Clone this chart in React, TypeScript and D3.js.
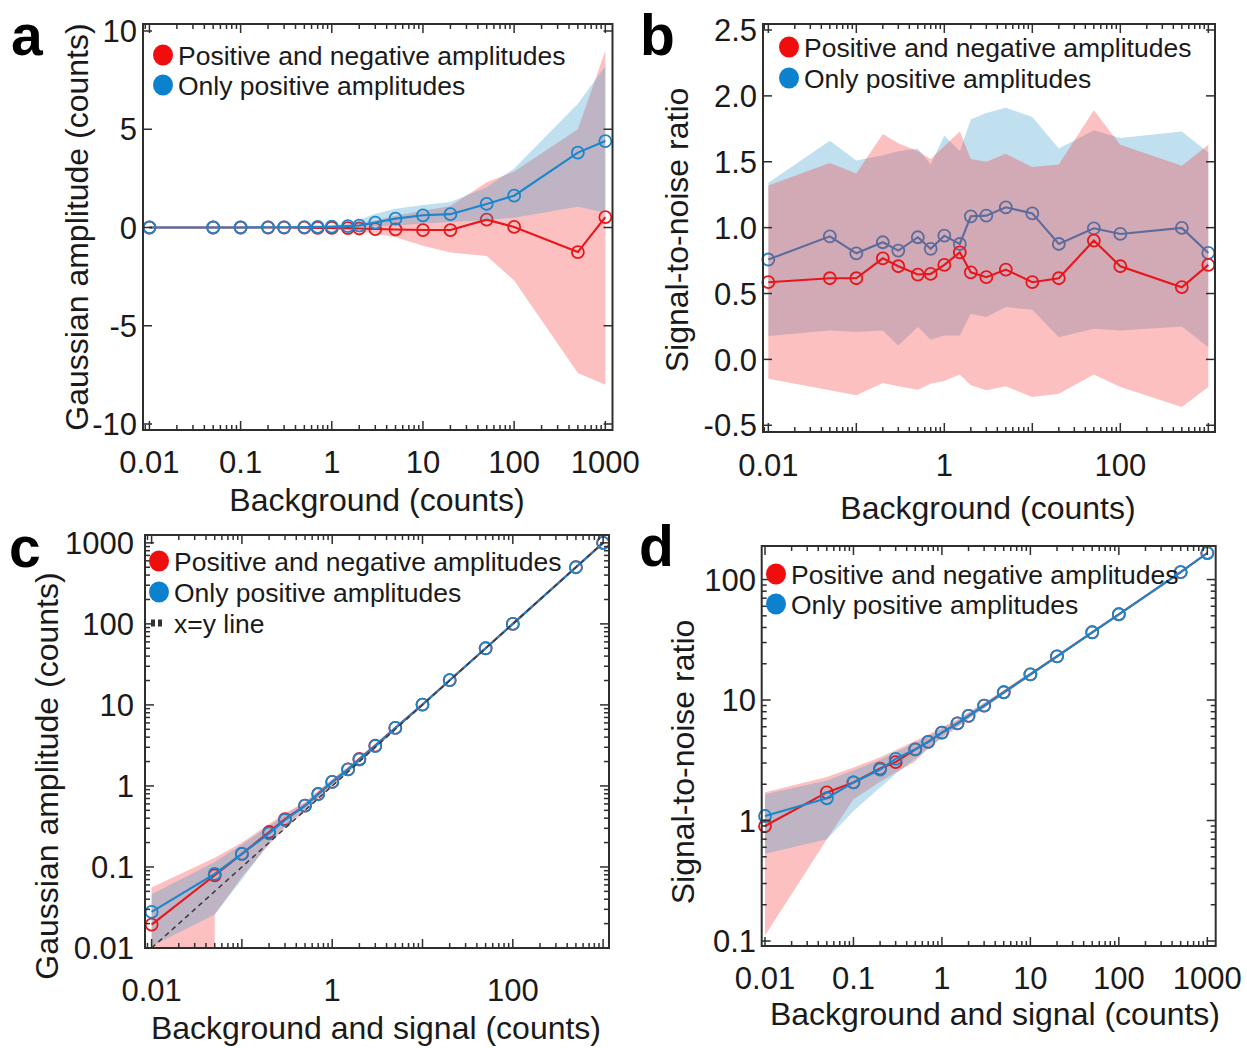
import React from "react";
import * as d3 from "d3";

const FONT = "'Liberation Sans', Arial, Helvetica, sans-serif";
const TEXT = "#1a1a1a";
const AXIS = "#2e2e2e";
const RED = "#e8161b";
const BLUE = "#1a86cc";
const RED_DOT = "#f00d0d";
const BLUE_DOT = "#0c82cf";
const RED_FILL = "rgb(250,45,45)";
const BLUE_FILL = "rgb(45,152,205)";

// shared x values (background / background+signal counts)
const xCounts = [0.01, 0.05, 0.1, 0.2, 0.3, 0.5, 0.7, 1, 1.5, 2, 3, 5, 10, 20, 50, 100, 500, 1000];

// ---- panel a: Gaussian amplitude vs background
const aRed = [0, 0, 0, 0, 0, -0.01, -0.02, -0.02, -0.03, -0.05, -0.08, -0.1, -0.13, -0.13, 0.4, 0.03, -1.25, 0.53];
const aRedLo = [-0.02, -0.02, -0.02, -0.02, -0.03, -0.05, -0.07, -0.1, -0.15, -0.2, -0.3, -0.5, -0.93, -1.27, -1.45, -2.7, -7.4, -8.0];
const aRedHi = [0.02, 0.02, 0.02, 0.03, 0.03, 0.05, 0.06, 0.1, 0.14, 0.2, 0.35, 0.6, 0.85, 1.1, 2.3, 2.85, 5.0, 9.0];
const aBlue = [0, 0, 0, 0.01, 0.01, 0.02, 0.03, 0.04, 0.07, 0.1, 0.25, 0.45, 0.62, 0.68, 1.2, 1.62, 3.81, 4.4];
const aBlueLo = [0, 0, 0, 0, 0, 0, 0, 0, 0.01, 0.02, 0.05, 0.1, 0.2, 0.28, 0.38, 0.5, 1.05, 0.75];
const aBlueHi = [0.02, 0.02, 0.02, 0.03, 0.04, 0.06, 0.08, 0.12, 0.2, 0.4, 0.7, 0.95, 1.15, 1.3, 2.05, 3.0, 6.3, 8.2];

// ---- panel b: SNR vs background
const bRed = [0.586, 0.616, 0.616, 0.767, 0.707, 0.644, 0.649, 0.717, 0.813, 0.661, 0.624, 0.682, 0.586, 0.616, 0.902, 0.707, 0.548, 0.717];
const bRedLo = [-0.146, -0.235, -0.273, -0.179, -0.204, -0.23, -0.184, -0.164, -0.114, -0.197, -0.235, -0.204, -0.285, -0.26, -0.114, -0.21, -0.361, -0.21];
const bRedHi = [1.32, 1.49, 1.41, 1.71, 1.64, 1.58, 1.52, 1.62, 1.73, 1.52, 1.5, 1.56, 1.46, 1.48, 1.89, 1.63, 1.47, 1.63];
const bBlue = [0.758, 0.934, 0.805, 0.889, 0.826, 0.927, 0.839, 0.939, 0.876, 1.086, 1.091, 1.154, 1.108, 0.876, 0.995, 0.952, 0.998, 0.808];
const bBlueLo = [0.177, 0.22, 0.208, 0.22, 0.106, 0.245, 0.149, 0.182, 0.182, 0.346, 0.321, 0.397, 0.376, 0.169, 0.232, 0.22, 0.25, 0.093];
const bBlueHi = [1.34, 1.66, 1.51, 1.55, 1.58, 1.6, 1.48, 1.7, 1.58, 1.82, 1.87, 1.91, 1.84, 1.6, 1.74, 1.68, 1.73, 1.57];

// ---- panel c: Gaussian amplitude vs background and signal
const cRed = [0.0194, 0.079, 0.145, 0.27, 0.39, 0.57, 0.8, 1.12, 1.6, 2.15, 3.15, 5.2, 10.1, 20.2, 50, 100, 500, 1000];
const cRedLo = [0, 0.026, 0.075, 0.19, 0.3, 0.48, 0.7, 0.98, 1.45, 1.95, 2.9, 4.9, 9.7, 19.6, 49.5, 99, 498, 997];
const cRedHi = [0.056, 0.13, 0.2, 0.34, 0.46, 0.64, 0.88, 1.22, 1.72, 2.3, 3.35, 5.45, 10.5, 20.6, 50.5, 101, 502, 1003];
const cBlue = [0.0279, 0.082, 0.145, 0.26, 0.38, 0.57, 0.79, 1.12, 1.6, 2.12, 3.1, 5.2, 10.1, 20.2, 50, 100, 500, 1000];
const cBlueLo = [0.0105, 0.026, 0.07, 0.2, 0.32, 0.52, 0.72, 1.0, 1.46, 1.96, 2.92, 4.92, 9.75, 19.7, 49.6, 99.5, 499, 998];
const cBlueHi = [0.046, 0.115, 0.19, 0.32, 0.44, 0.62, 0.86, 1.2, 1.7, 2.25, 3.3, 5.35, 10.3, 20.5, 50.4, 100.5, 501, 1002];
const cIdentity = [0.01, 1000];

// ---- panel d: SNR vs background and signal
const dRed = [0.9, 1.71, 2.07, 2.7, 3.05, 3.9, 4.5, 5.37, 6.4, 7.4, 9.0, 11.6, 16.3, 23, 36.5, 51.5, 115, 166];
const dRedLo = [0.111, 0.7, 1.5, 2.1, 2.5, 3.1, 3.95, 4.85, 5.95, 6.95, 8.55, 11.1, 15.8, 22.4, 35.8, 50.7, 114, 165];
const dRedHi = [1.72, 2.3, 2.75, 3.35, 3.85, 4.6, 5.15, 5.95, 6.9, 7.9, 9.5, 12.1, 16.9, 23.6, 37.2, 52.3, 116, 167];
const dBlue = [1.09, 1.53, 2.07, 2.65, 3.25, 3.9, 4.5, 5.37, 6.4, 7.4, 9.0, 11.6, 16.3, 23, 36.5, 51.5, 115, 166];
const dBlueLo = [0.53, 0.7, 1.2, 1.88, 2.43, 3.25, 4.0, 4.9, 6.0, 7.0, 8.6, 11.15, 15.85, 22.5, 35.9, 50.8, 114, 165];
const dBlueHi = [1.65, 2.15, 2.6, 3.2, 3.7, 4.4, 5.0, 5.8, 6.8, 7.8, 9.4, 12.0, 16.8, 23.5, 37.1, 52.2, 116, 167];

// tick labels
const xLabelsEvery = ["0.01", "0.1", "1", "10", "100", "1000"];
const xLabelsSparse = ["0.01", "1", "100"];
const aYLabels = ["-10", "-5", "0", "5", "10"];
const bYLabels = ["-0.5", "0.0", "0.5", "1.0", "1.5", "2.0", "2.5"];
const cYLabels = ["0.01", "0.1", "1", "10", "100", "1000"];
const dYLabels = ["0.1", "1", "10", "100"];

const legendMain = ["Positive and negative amplitudes", "Only positive amplitudes"];
const legendIdentity = "x=y line";

type Cfg = any;

function logTicks(domain: number[]) {
  const res: { v: number; major: boolean }[] = [];
  for (let e = -3; e <= 4; e++) {
    for (let k = 1; k < 10; k++) {
      const v = +(k * Math.pow(10, e)).toPrecision(6);
      if (v >= domain[0] && v <= domain[1]) res.push({ v, major: k === 1 });
    }
  }
  return res;
}

function bandPath(xs: number[], lo: number[], hi: number[], x: any, y: any, yLog: boolean, bottom: number) {
  const pts: [number, number][] = xs.map((v, i) => [x(v), y(hi[i])]);
  for (let i = xs.length - 1; i >= 0; i--) {
    if (yLog && lo[i] <= 0) {
      if (i + 1 < xs.length) pts.push([x(xs[i + 1]), bottom]);
      pts.push([x(xs[i > 0 ? i - 1 : i]), bottom]);
    } else pts.push([x(xs[i]), y(lo[i])]);
  }
  return (d3.line()(pts) as string) + "Z";
}

function Panel({ cfg }: { cfg: Cfg }) {
  const { l, t, r, b } = cfg.frame;
  const x = d3.scaleLog().domain(cfg.xDomain).range([l, r]);
  const y = (cfg.yLog ? d3.scaleLog() : d3.scaleLinear()).domain(cfg.yDomain).range([b, t]);
  const clipId = "clip-" + cfg.id;
  const line = d3
    .line<number>()
    .x((_, i) => x(cfg.xs[i]))
    .y((v) => y(v));

  const xt = logTicks(cfg.xDomain);
  const yt = cfg.yLog
    ? logTicks(cfg.yDomain)
    : cfg.yTickVals.map((v: number) => ({ v, major: true }));

  const MAJ = 9;
  const MIN = 5;

  const layers = cfg.order.map((key: string, li: number) => {
    const s = cfg.series[key.slice(1)];
    if (key[0] === "B") {
      return (
        <path
          key={li}
          d={bandPath(cfg.xs, s.lo, s.hi, x, y, cfg.yLog, b + 5)}
          fill={s.fill}
          fillOpacity={s.alpha}
          stroke="none"
          clipPath={`url(#${clipId})`}
        />
      );
    }
    return (
      <g key={li}>
        <path d={line(s.vals) as string} fill="none" stroke={s.color} strokeWidth={2.1} />
        {s.vals.map((v: number, i: number) => (
          <circle key={i} cx={x(cfg.xs[i])} cy={y(v)} r={6} fill="none" stroke={s.color} strokeWidth={1.8} />
        ))}
      </g>
    );
  });

  return (
    <g>
      <defs>
        <clipPath id={clipId}>
          <rect x={l} y={t} width={r - l} height={b - t} />
        </clipPath>
      </defs>
      {layers}
      {cfg.identity && (
        <line
          x1={x(cfg.identity[0])}
          y1={y(cfg.identity[0])}
          x2={x(cfg.identity[1])}
          y2={y(cfg.identity[1])}
          stroke="#3a3a3a"
          strokeWidth={1.5}
          strokeDasharray="5,4"
        />
      )}
      {xt.map((tk, i) => {
        const len = tk.major ? MAJ : MIN;
        const px = x(tk.v);
        return (
          <g key={"xt" + i} stroke={AXIS} strokeWidth={1.5}>
            <line x1={px} x2={px} y1={b} y2={b - len} />
            <line x1={px} x2={px} y1={t} y2={t + len} />
          </g>
        );
      })}
      {yt.map((tk: any, i: number) => {
        const len = tk.major ? MAJ : MIN;
        const py = y(tk.v);
        return (
          <g key={"yt" + i} stroke={AXIS} strokeWidth={1.5}>
            <line x1={l} x2={l + len} y1={py} y2={py} />
            <line x1={r} x2={r - len} y1={py} y2={py} />
          </g>
        );
      })}
      <rect x={l} y={t} width={r - l} height={b - t} fill="none" stroke={AXIS} strokeWidth={2} />
      {cfg.xLabelVals.map((v: number, i: number) => (
        <text key={"xl" + i} x={x(v)} y={cfg.xLabelY} textAnchor="middle" fontSize={31} fill={TEXT} fontFamily={FONT}>
          {cfg.xLabels[i]}
        </text>
      ))}
      {cfg.yLabelVals.map((v: number, i: number) => (
        <text
          key={"yl" + i}
          x={cfg.yLabelX}
          y={y(v)}
          dy="0.36em"
          textAnchor="end"
          fontSize={31}
          fill={TEXT}
          fontFamily={FONT}
        >
          {cfg.yLabels[i]}
        </text>
      ))}
      <text x={cfg.xTitle[0]} y={cfg.xTitle[1]} textAnchor="middle" fontSize={32} fill={TEXT} fontFamily={FONT}>
        {cfg.xTitleText}
      </text>
      <text
        transform={`translate(${cfg.yTitle[0]},${cfg.yTitle[1]}) rotate(-90)`}
        textAnchor="middle"
        fontSize={32}
        fill={TEXT}
        fontFamily={FONT}
      >
        {cfg.yTitleText}
      </text>
      <text x={cfg.letter[0]} y={cfg.letter[1]} fontSize={57} fontWeight="bold" fill="#000" fontFamily={FONT}>
        {cfg.letterText}
      </text>
      {cfg.legend.map((it: any, i: number) => {
        const ly = cfg.legendPos[1] + i * cfg.legendGap;
        const lx = cfg.legendPos[0];
        return (
          <g key={"lg" + i}>
            {it.kind === "dot" ? (
              <ellipse cx={lx} cy={ly} rx={10} ry={10.5} fill={it.color} />
            ) : (
              <line x1={lx - 8} x2={lx + 6} y1={ly} y2={ly} stroke="#333" strokeWidth={7} strokeDasharray="4,3" />
            )}
            <text x={lx + 15} y={ly} dy="0.36em" fontSize={26.5} fill={TEXT} fontFamily={FONT}>
              {it.label}
            </text>
          </g>
        );
      })}
    </g>
  );
}

const legend2 = [
  { label: legendMain[0], color: RED_DOT, kind: "dot" },
  { label: legendMain[1], color: BLUE_DOT, kind: "dot" },
];
const legend3 = [...legend2, { label: legendIdentity, color: "#333", kind: "dash" }];

const redA = 0.3;
const blueA = 0.3;

const panels: Cfg[] = [
  {
    id: "a",
    frame: { l: 143, t: 24, r: 612.5, b: 430 },
    xDomain: [0.0085, 1199],
    yDomain: [-10.305, 10.356],
    yLog: false,
    yTickVals: [-10, -5, 0, 5, 10],
    xs: xCounts,
    series: {
      red: { vals: aRed, lo: aRedLo, hi: aRedHi, color: RED, fill: RED_FILL, alpha: redA },
      blue: { vals: aBlue, lo: aBlueLo, hi: aBlueHi, color: BLUE, fill: BLUE_FILL, alpha: blueA },
    },
    order: ["Bred", "Lred", "Bblue", "Lblue"],
    xLabelVals: [0.01, 0.1, 1, 10, 100, 1000],
    xLabels: xLabelsEvery,
    xLabelY: 473,
    yLabelVals: [-10, -5, 0, 5, 10],
    yLabels: aYLabels,
    yLabelX: 137,
    xTitle: [377, 511],
    xTitleText: "Background (counts)",
    yTitle: [88, 227],
    yTitleText: "Gaussian amplitude (counts)",
    letter: [11, 55],
    letterText: "a",
    legend: legend2,
    legendPos: [163, 55],
    legendGap: 30,
  },
  {
    id: "b",
    frame: { l: 763, t: 24, r: 1215, b: 432 },
    xDomain: [0.0087, 1191],
    yDomain: [-0.551, 2.5455],
    yLog: false,
    yTickVals: [-0.5, 0, 0.5, 1, 1.5, 2, 2.5],
    xs: xCounts,
    series: {
      red: { vals: bRed, lo: bRedLo, hi: bRedHi, color: RED, fill: RED_FILL, alpha: redA },
      blue: { vals: bBlue, lo: bBlueLo, hi: bBlueHi, color: BLUE, fill: BLUE_FILL, alpha: blueA },
    },
    order: ["Bblue", "Lblue", "Bred", "Lred"],
    xLabelVals: [0.01, 1, 100],
    xLabels: xLabelsSparse,
    xLabelY: 476,
    yLabelVals: [-0.5, 0, 0.5, 1, 1.5, 2, 2.5],
    yLabels: bYLabels,
    yLabelX: 757,
    xTitle: [988, 519],
    xTitleText: "Background (counts)",
    yTitle: [688, 230],
    yTitleText: "Signal-to-noise ratio",
    letter: [640, 55],
    letterText: "b",
    legend: legend2,
    legendPos: [789, 47],
    legendGap: 31,
  },
  {
    id: "c",
    frame: { l: 145, t: 535, r: 609, b: 948 },
    xDomain: [0.00845, 1162],
    yDomain: [0.01, 1250],
    yLog: true,
    xs: xCounts,
    series: {
      red: { vals: cRed, lo: cRedLo, hi: cRedHi, color: RED, fill: RED_FILL, alpha: redA },
      blue: { vals: cBlue, lo: cBlueLo, hi: cBlueHi, color: BLUE, fill: BLUE_FILL, alpha: blueA },
    },
    order: ["Bred", "Bblue", "Lred", "Lblue"],
    identity: cIdentity,
    xLabelVals: [0.01, 1, 100],
    xLabels: xLabelsSparse,
    xLabelY: 1001,
    yLabelVals: [0.01, 0.1, 1, 10, 100, 1000],
    yLabels: cYLabels,
    yLabelX: 134,
    xTitle: [376, 1039],
    xTitleText: "Background and signal (counts)",
    yTitle: [58, 776],
    yTitleText: "Gaussian amplitude (counts)",
    letter: [9, 567],
    letterText: "c",
    legend: legend3,
    legendPos: [159, 561],
    legendGap: 31,
  },
  {
    id: "d",
    frame: { l: 761.7, t: 546, r: 1215.7, b: 946 },
    xDomain: [0.00918, 1244],
    yDomain: [0.0909, 189.8],
    yLog: true,
    xs: xCounts,
    series: {
      red: { vals: dRed, lo: dRedLo, hi: dRedHi, color: RED, fill: RED_FILL, alpha: redA },
      blue: { vals: dBlue, lo: dBlueLo, hi: dBlueHi, color: BLUE, fill: BLUE_FILL, alpha: blueA },
    },
    order: ["Bred", "Bblue", "Lred", "Lblue"],
    xLabelVals: [0.01, 0.1, 1, 10, 100, 1000],
    xLabels: xLabelsEvery,
    xLabelY: 989,
    yLabelVals: [0.1, 1, 10, 100],
    yLabels: dYLabels,
    yLabelX: 756,
    xTitle: [995, 1025],
    xTitleText: "Background and signal (counts)",
    yTitle: [694, 762],
    yTitleText: "Signal-to-noise ratio",
    letter: [639, 566],
    letterText: "d",
    legend: legend2,
    legendPos: [776, 574],
    legendGap: 30,
  },
];

export default function App() {
  return (
    <svg
      width={1247}
      height={1048}
      viewBox="0 0 1247 1048"
      style={{ position: "absolute", left: 0, top: 0, background: "#fff" }}
    >
      <rect x={0} y={0} width={1247} height={1048} fill="#fff" />
      {panels.map((p) => (
        <Panel key={p.id} cfg={p} />
      ))}
    </svg>
  );
}
